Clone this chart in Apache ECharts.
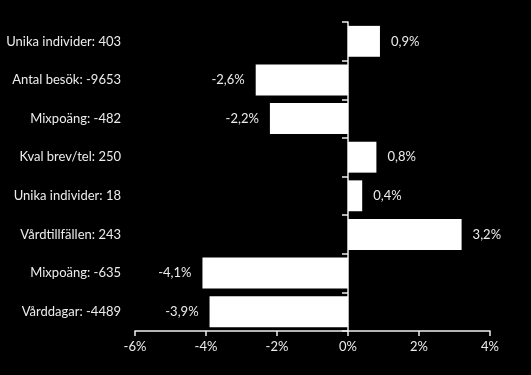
<!DOCTYPE html>
<html>
<head>
<meta charset="utf-8">
<script src="https://cdn.jsdelivr.net/npm/echarts@6/dist/echarts.min.js"></script>
<style>
html,body{margin:0;padding:0;background:#000;}
#c{width:531px;height:375px;}
</style>
</head>
<body>
<div id="c"></div>
<script>
const categories = [
  "Unika individer: 403",
  "Antal besök: -9653",
  "Mixpoäng: -482",
  "Kval brev/tel: 250",
  "Unika individer: 18",
  "Vårdtillfällen: 243",
  "Mixpoäng: -635",
  "Vårddagar: -4489"
];
const values = [0.9, -2.6, -2.2, 0.8, 0.4, 3.2, -4.1, -3.9];
const xTicks = [-6, -4, -2, 0, 2, 4];

// ECharts category axis goes bottom-up; reverse to keep top-to-bottom order
const cats = categories.slice().reverse();
const vals = values.slice().reverse();

const fmt = v => String(v).replace('.', ',') + '%';
const font = 'Lato, "Open Sans", sans-serif';
const textColor = '#ececec';

const chart = echarts.init(document.getElementById('c'));
chart.setOption({
  backgroundColor: '#000',
  animation: false,
  grid: { left: 135, right: 41, top: 22, bottom: 44, containLabel: false },
  xAxis: {
    type: 'value',
    min: xTicks[0],
    max: xTicks[xTicks.length - 1],
    interval: 2,
    axisLine: { show: true, onZero: false, lineStyle: { color: '#f0f0f0', width: 1.5 } },
    axisTick: { show: true, length: 5, lineStyle: { color: '#f0f0f0', width: 1.5 } },
    splitLine: { show: false },
    axisLabel: { color: textColor, fontFamily: font, fontSize: 13, margin: 9, formatter: v => v + '%' }
  },
  yAxis: [
    {
      type: 'category',
      data: cats,
      position: 'left',
      axisLine: { show: false, onZero: false },
      axisTick: { show: false },
      axisLabel: { color: textColor, fontFamily: font, fontSize: 13, margin: 14 }
    },
    {
      type: 'category',
      data: cats,
      position: 'left',
      axisLine: { show: true, onZero: true, lineStyle: { color: '#f0f0f0', width: 1.5 } },
      axisTick: { show: true, length: 6, inside: false, lineStyle: { color: '#f0f0f0', width: 1.5 } },
      axisLabel: { show: false }
    }
  ],
  series: [{
    type: 'bar',
    yAxisIndex: 0,
    data: vals.map(v => ({
      value: v,
      label: { position: v >= 0 ? 'right' : 'left' }
    })),
    barCategoryGap: '20%',
    itemStyle: { color: '#ffffff' },
    label: {
      show: true,
      distance: 11,
      color: textColor,
      fontFamily: font,
      fontSize: 13,
      formatter: p => fmt(p.value)
    }
  }]
});
</script>
</body>
</html>
